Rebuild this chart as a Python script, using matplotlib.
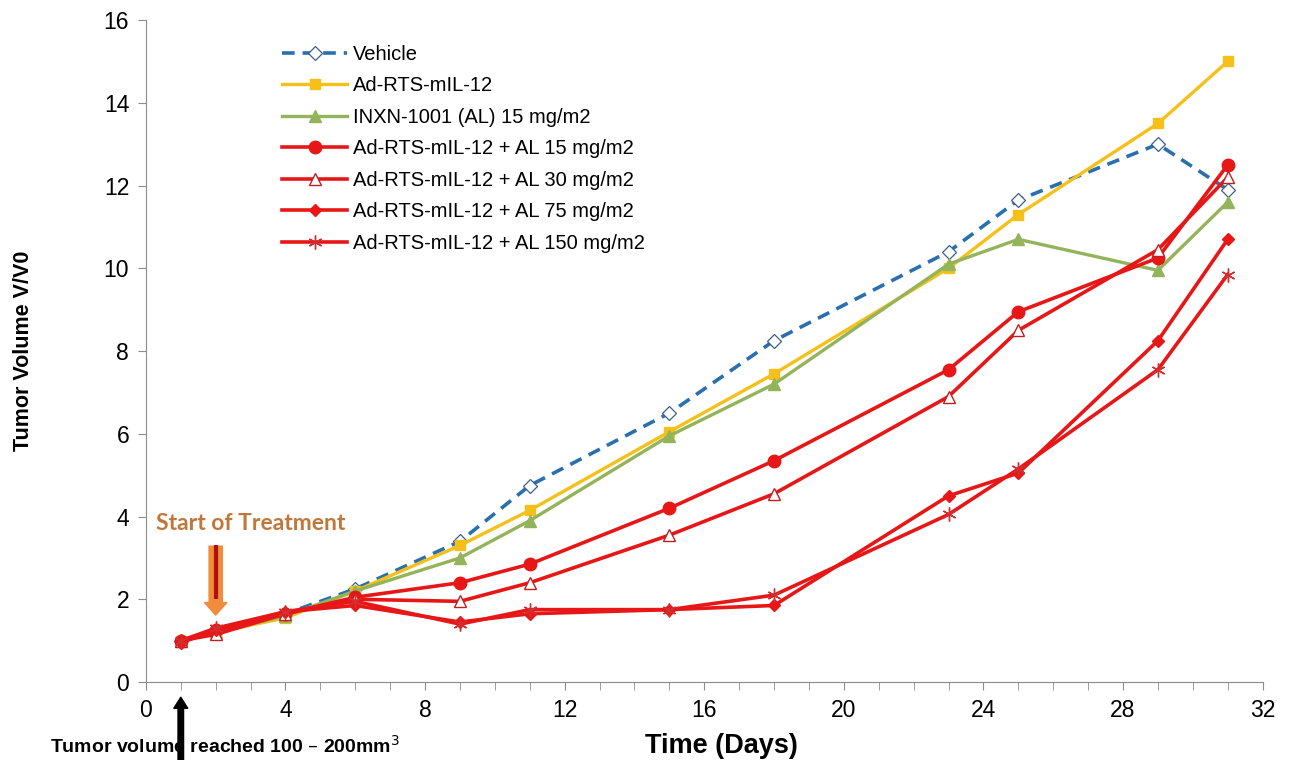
import matplotlib
matplotlib.use("Agg")
import matplotlib.pyplot as plt
from matplotlib.ticker import MultipleLocator

plt.rcParams['font.family'] = ['Liberation Sans', 'DejaVu Sans']

days = [1, 2, 4, 6, 9, 11, 15, 18, 23, 25, 29, 31]
vehicle = [1.0, 1.2, 1.65, 2.25, 3.4, 4.75, 6.5, 8.25, 10.4, 11.65, 13.0, 11.9]
ad_il12 = [1.0, 1.2, 1.55, 2.2, 3.3, 4.15, 6.05, 7.45, 10.0, 11.3, 13.5, 15.0]
inxn_15 = [1.0, 1.2, 1.6, 2.2, 3.0, 3.9, 5.95, 7.2, 10.1, 10.7, 9.95, 11.6]
combo_15 = [1.0, 1.25, 1.65, 2.05, 2.4, 2.85, 4.2, 5.35, 7.55, 8.95, 10.25, 12.5]
combo_30 = [1.0, 1.15, 1.65, 2.0, 1.95, 2.4, 3.55, 4.55, 6.9, 8.5, 10.45, 12.2]
combo_75 = [0.95, 1.25, 1.7, 1.85, 1.45, 1.65, 1.75, 1.85, 4.5, 5.05, 8.25, 10.7]
combo_150 = [1.0, 1.3, 1.7, 1.95, 1.4, 1.75, 1.75, 2.1, 4.05, 5.15, 7.55, 9.85]

labels = ['Vehicle', 'Ad-RTS-mIL-12', 'INXN-1001 (AL) 15 mg/m2',
          'Ad-RTS-mIL-12 + AL 15 mg/m2', 'Ad-RTS-mIL-12 + AL 30 mg/m2',
          'Ad-RTS-mIL-12 + AL 75 mg/m2', 'Ad-RTS-mIL-12 + AL 150 mg/m2']

treat_day = 2
start_day = 1

blue, yellow, green, red = '#2a6fae', '#f5c01a', '#93b45a', '#e81717'

fig = plt.figure(figsize=(12.91, 7.6), dpi=100)
ax = fig.add_axes([0.113, 0.1026, 0.865, 0.871])

ax.plot(days, vehicle, ls=(0, (3.5, 2.2)), color=blue, lw=2.6, marker='D', ms=7,
        mfc='white', mec='#3a5f8f', mew=0.9, label=labels[0])
ax.plot(days, ad_il12, color=yellow, lw=2.4, marker='s', ms=7, label=labels[1])
ax.plot(days, inxn_15, color=green, lw=2.4, marker='^', ms=8, label=labels[2])
ax.plot(days, combo_15, color=red, lw=2.6, marker='o', ms=9, label=labels[3])
ax.plot(days, combo_30, color=red, lw=2.6, marker='^', ms=9, mfc='white',
        mec='#c02020', mew=1.0, label=labels[4])
ax.plot(days, combo_75, color=red, lw=2.6, marker='D', ms=6, label=labels[5])
ax.plot(days, combo_150, color=red, lw=2.6, marker=(6, 2, 0), ms=10,
        mec='#d03030', mew=1.0, label=labels[6])

ax.set_xlim(0, 32)
ax.set_ylim(0, 16)
ax.xaxis.set_major_locator(MultipleLocator(4))
ax.xaxis.set_minor_locator(MultipleLocator(1))
ax.yaxis.set_major_locator(MultipleLocator(2))
for s in ['top', 'right']:
    ax.spines[s].set_visible(False)
for s in ['left', 'bottom']:
    ax.spines[s].set_color('#8c8c8c')
ax.tick_params(axis='both', which='major', labelsize=16.5, color='#8c8c8c',
               length=6, pad=6)
ax.tick_params(axis='x', which='minor', color='#8c8c8c', length=6)

ax.set_ylabel('Tumor Volume V/V0', fontsize=15.5, fontweight='bold', labelpad=50)
ax.text(16.5, -1.55, 'Time (Days)', fontsize=19.5, fontweight='bold',
        ha='center', va='center', clip_on=False)
ax.text(-2.75, -1.55, 'Tumor volume reached 100 – 200mm$^{3}$', fontsize=14,
        fontweight='bold', ha='left', va='center', clip_on=False)

# start of treatment marker
ax.text(0.3, 3.84, 'Start of Treatment', fontsize=16.5, fontweight='bold',
        family='Lato', color='#c0783a', ha='left', va='center')
ax.annotate('', xy=(treat_day, 1.55), xytext=(treat_day, 3.35),
            arrowprops=dict(arrowstyle='simple,head_width=1.6,head_length=0.9,tail_width=0.95',
                            fc='#f08c3c', ec='#f08c3c'), zorder=5)
ax.plot([treat_day, treat_day], [2.0, 3.3], color='#b01010', lw=3,
        solid_capstyle='butt', zorder=6)

# day zero arrow below axis
ax.annotate('', xy=(start_day, -0.3), xytext=(start_day, -2.1),
            xycoords='data', annotation_clip=False,
            arrowprops=dict(arrowstyle='simple,head_width=1.0,head_length=0.8,tail_width=0.4',
                            fc='black', ec='black'))

ax.legend(loc='upper left', bbox_to_anchor=(0.115, 0.975), frameon=False,
          fontsize=14.5, handlelength=3.2, labelspacing=0.62, borderaxespad=0,
          handletextpad=0.3)

fig.savefig('out.png', dpi=100)
